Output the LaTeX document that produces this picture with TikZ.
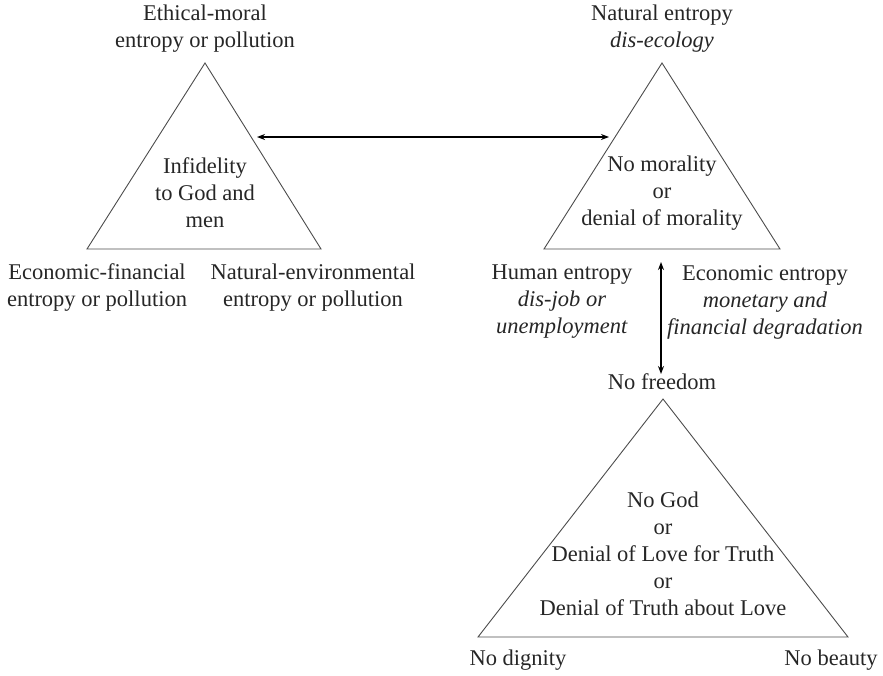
\documentclass[tikz,border=0pt]{standalone}
\usepackage{fontspec}
\setmainfont{Liberation Serif}
\usetikzlibrary{arrows.meta}
\begin{document}
\begin{tikzpicture}[x=1pt,y=-1pt,
  lbl/.style={align=center,inner sep=0pt,text=black!85,font=\fontsize{22.5}{27}\selectfont},
  tri/.style={draw=black!70,line width=0.9pt,line join=miter},
  link/.style={draw=black,line width=1.6pt,{Stealth[length=8pt,width=6pt]}-{Stealth[length=8pt,width=6pt]}}]
\useasboundingbox (0,0) rectangle (883,675);

% triangle vertices
\coordinate (a1) at (205,63);  \coordinate (b1) at (87,249);  \coordinate (c1) at (321,249);
\coordinate (a2) at (662,63);  \coordinate (b2) at (544,249); \coordinate (c2) at (780,249);
\coordinate (a3) at (663,399); \coordinate (b3) at (478,637); \coordinate (c3) at (848,637);

\draw[tri] (a1) -- (b1) -- (c1) -- cycle;
\draw[tri] (a2) -- (b2) -- (c2) -- cycle;
\draw[tri] (a3) -- (b3) -- (c3) -- cycle;

% labels of the first triangle
\node[lbl] (t1top) at (205,28.5) {Ethical-moral\\entropy or pollution};
\node[lbl] (t1in) at (205,193) {Infidelity\\to God and\\men};
\node[lbl] (t1l) at (97,288) {Economic-financial\\entropy or pollution};
\node[lbl] (t1r) at (313,288) {Natural-environmental\\entropy or pollution};

% labels of the second triangle
\node[lbl] (t2top) at (662,28.5) {Natural entropy\\\textit{dis-ecology}};
\node[lbl] (t2in) at (662,193) {No morality\\or\\denial of morality};
\node[lbl] (t2l) at (562,302) {Human entropy\\\textit{dis-job or}\\\textit{unemployment}};
\node[lbl] (t2r) at (765,302) {Economic entropy\\\textit{monetary and}\\\textit{financial degradation}};

% labels of the third triangle
\node[lbl] (t3top) at (662,382) {No freedom};
\node[lbl] (t3in) at (663,554) {No God\\or\\Denial of Love for Truth\\or\\Denial of Truth about Love};
\node[lbl] (t3l) at (518,660) {No dignity};
\node[lbl] (t3r) at (831,660) {No beauty};

% connectors
\coordinate (h1) at (257,137);
\coordinate (h2) at (609,137);
\coordinate (v1) at (661,262);
\coordinate (v2) at (661,374);
\draw[link] (h1) -- (h2);
\draw[link] (v1) -- (v2);
\end{tikzpicture}
\end{document}
